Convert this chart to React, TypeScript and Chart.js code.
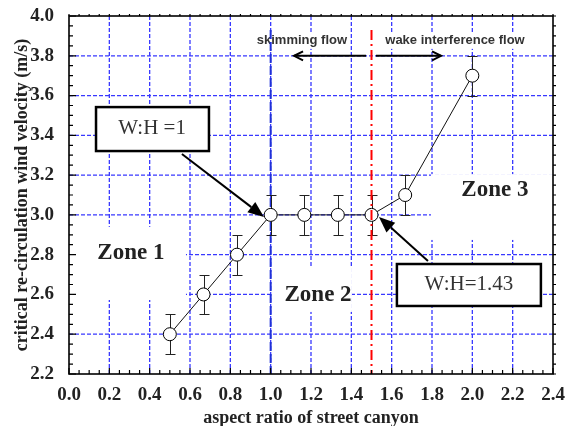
import { useEffect, useRef } from "react";
import { Chart, registerables } from "chart.js";

Chart.register(...registerables);

// ---- data ----
const aspectRatios = [0.5, 0.667, 0.833, 1.0, 1.167, 1.333, 1.5, 1.667, 2.0];
const velocities = [2.4, 2.6, 2.8, 3.0, 3.0, 3.0, 3.0, 3.1, 3.7];
const velocityErrors = [0.1, 0.1, 0.1, 0.1, 0.1, 0.1, 0.1, 0.1, 0.1];

const X_MIN = 0;
const X_MAX = 2.4;
const Y_MIN = 2.2;
const Y_MAX = 4.0;
const TICK_STEP = 0.2;
const MINOR_STEP = 0.05;

const xTitle = "aspect ratio of street canyon";
const yTitle = "critical re-circulation wind velocity (m/s)";
const skimmingBoundary = 1.0;
const wakeBoundary = 1.5;

const SERIF = "'Liberation Serif', 'Times New Roman', serif";
const SANS = "'Liberation Sans', Arial, sans-serif";

function drawArrow(
  ctx: CanvasRenderingContext2D,
  x1: number, y1: number, x2: number, y2: number,
  filled: boolean, headLen: number, headHalf: number, lw: number
) {
  const ang = Math.atan2(y2 - y1, x2 - x1);
  const cos = Math.cos(ang), sin = Math.sin(ang);
  const bx = x2 - headLen * cos, by = y2 - headLen * sin;
  const lx = bx + headHalf * sin, ly = by - headHalf * cos;
  const rx = bx - headHalf * sin, ry = by + headHalf * cos;
  ctx.save();
  ctx.strokeStyle = "#000";
  ctx.fillStyle = "#000";
  ctx.lineWidth = lw;
  ctx.setLineDash([]);
  ctx.beginPath();
  ctx.moveTo(x1, y1);
  ctx.lineTo(filled ? bx : x2, filled ? by : y2);
  ctx.stroke();
  ctx.beginPath();
  if (filled) {
    ctx.moveTo(x2, y2);
    ctx.lineTo(lx, ly);
    ctx.lineTo(rx, ry);
    ctx.closePath();
    ctx.fill();
  } else {
    ctx.moveTo(lx, ly);
    ctx.lineTo(x2, y2);
    ctx.lineTo(rx, ry);
    ctx.stroke();
  }
  ctx.restore();
}

const decorPlugin = {
  id: "decor",
  beforeDatasetsDraw(chart: any) {
    const { ctx, chartArea: a } = chart;
    const xs = chart.scales.x, ys = chart.scales.y;
    const px = (v: number) => xs.getPixelForValue(v);
    const py = (v: number) => ys.getPixelForValue(v);
    ctx.save();
    // grid
    ctx.strokeStyle = "#3838ff";
    ctx.lineWidth = 1.3;
    ctx.setLineDash([4, 2]);
    const nx = Math.round((X_MAX - X_MIN) / TICK_STEP);
    for (let k = 1; k < nx; k++) {
      const x = px(X_MIN + k * TICK_STEP);
      ctx.beginPath();
      ctx.moveTo(x, a.top);
      ctx.lineTo(x, a.bottom);
      ctx.stroke();
    }
    const ny = Math.round((Y_MAX - Y_MIN) / TICK_STEP);
    for (let k = 1; k < ny; k++) {
      const y = py(Y_MIN + k * TICK_STEP);
      ctx.beginPath();
      ctx.moveTo(a.left, y);
      ctx.lineTo(a.right, y);
      ctx.stroke();
    }
    ctx.setLineDash([]);
    // white label backgrounds
    ctx.fillStyle = "#fff";
    const boxes = [
      [0.0, 2.94, 0.58, 2.572],
      [1.007, 2.733, 1.403, 2.512],
      [1.795, 3.205, 2.4, 2.874],
    ];
    for (const [x0, y0, x1, y1] of boxes) {
      ctx.fillRect(px(x0), py(y0), px(x1) - px(x0), py(y1) - py(y0));
    }
    // zone labels
    ctx.fillStyle = "#222";
    ctx.font = `bold 23px ${SERIF}`;
    ctx.textAlign = "center";
    ctx.textBaseline = "middle";
    ctx.fillText("Zone 1", px(0.307), py(2.808));
    ctx.fillText("Zone 2", px(1.235), py(2.597));
    ctx.fillText("Zone 3", px(2.112), py(3.125));
    // flow labels
    ctx.font = `bold 13px ${SANS}`;
    const flows: [string, number][] = [
      ["skimming flow", 1.155],
      ["wake interference flow", 1.914],
    ];
    for (const [t, xv] of flows) {
      const w = ctx.measureText(t).width;
      ctx.fillStyle = "#fff";
      ctx.fillRect(px(xv) - w / 2 - 2, py(3.875) - 8, w + 4, 16);
      ctx.fillStyle = "#333";
      ctx.fillText(t, px(xv), py(3.875));
    }
    drawArrow(ctx, px(1.473), py(3.8), px(1.116), py(3.8), false, 9, 4.5, 2);
    drawArrow(ctx, px(1.522), py(3.8), px(1.845), py(3.8), false, 9, 4.5, 2);
    // blue dashed boundary
    ctx.strokeStyle = "#2030d8";
    ctx.lineWidth = 2;
    ctx.setLineDash([9, 3]);
    ctx.beginPath();
    ctx.moveTo(px(skimmingBoundary), py(3.93));
    ctx.lineTo(px(skimmingBoundary), a.bottom);
    ctx.stroke();
    ctx.setLineDash([]);
    // error bars
    ctx.strokeStyle = "#222";
    ctx.lineWidth = 1;
    for (let i = 0; i < aspectRatios.length; i++) {
      const x = Math.round(px(aspectRatios[i])) + 0.5;
      const t = Math.round(py(velocities[i] + velocityErrors[i])) + 0.5;
      const b = Math.round(py(velocities[i] - velocityErrors[i])) + 0.5;
      ctx.beginPath();
      ctx.moveTo(x, t);
      ctx.lineTo(x, b);
      ctx.moveTo(x - 5, t);
      ctx.lineTo(x + 5, t);
      ctx.moveTo(x - 5, b);
      ctx.lineTo(x + 5, b);
      ctx.stroke();
    }
    ctx.restore();
  },
  afterDatasetsDraw(chart: any) {
    const { ctx, chartArea: a } = chart;
    const xs = chart.scales.x, ys = chart.scales.y;
    const px = (v: number) => xs.getPixelForValue(v);
    const py = (v: number) => ys.getPixelForValue(v);
    ctx.save();
    // red dash-dot boundary
    ctx.strokeStyle = "#ff0000";
    ctx.lineWidth = 2;
    ctx.setLineDash([10, 4, 2, 4]);
    ctx.beginPath();
    ctx.moveTo(px(wakeBoundary), py(3.93));
    ctx.lineTo(px(wakeBoundary), a.bottom);
    ctx.stroke();
    ctx.setLineDash([]);
    // frame
    ctx.strokeStyle = "#000";
    ctx.lineWidth = 1.6;
    ctx.strokeRect(a.left, a.top, a.right - a.left, a.bottom - a.top);
    // ticks
    ctx.lineWidth = 1.2;
    const nxm = Math.round((X_MAX - X_MIN) / MINOR_STEP);
    const per = Math.round(TICK_STEP / MINOR_STEP);
    for (let k = 0; k <= nxm; k++) {
      const x = px(X_MIN + k * MINOR_STEP);
      const len = k % per === 0 ? 6 : 4;
      ctx.beginPath();
      ctx.moveTo(x, a.bottom);
      ctx.lineTo(x, a.bottom - len);
      ctx.moveTo(x, a.top);
      ctx.lineTo(x, a.top - 2);
      ctx.stroke();
    }
    const nym = Math.round((Y_MAX - Y_MIN) / MINOR_STEP);
    for (let k = 0; k <= nym; k++) {
      const y = py(Y_MIN + k * MINOR_STEP);
      const len = k % per === 0 ? 7 : 4;
      ctx.beginPath();
      ctx.moveTo(a.left, y);
      ctx.lineTo(a.left + len, y);
      ctx.moveTo(a.right, y);
      ctx.lineTo(a.right + 3, y);
      ctx.stroke();
    }
    // W:H boxes
    const callouts: [string, number, number, number, number, number, number][] = [
      ["W:H =1", 0.134, 3.542, 0.694, 3.321, 0.412, 3.432],
      ["W:H=1.43", 1.626, 2.753, 2.34, 2.542, 1.983, 2.648],
    ];
    ctx.font = `21px ${SERIF}`;
    ctx.textAlign = "center";
    ctx.textBaseline = "middle";
    for (const [t, x0, y0, x1, y1, tx, ty] of callouts) {
      ctx.fillStyle = "#fff";
      ctx.fillRect(px(x0), py(y0), px(x1) - px(x0), py(y1) - py(y0));
      ctx.strokeStyle = "#000";
      ctx.lineWidth = 2.5;
      ctx.strokeRect(px(x0), py(y0), px(x1) - px(x0), py(y1) - py(y0));
      ctx.fillStyle = "#333";
      ctx.fillText(t, px(tx), py(ty));
    }
    drawArrow(ctx, px(0.56), py(3.306), px(0.967), py(2.99), true, 16, 6.5, 2);
    drawArrow(ctx, px(1.78), py(2.768), px(1.537), py(2.99), true, 16, 6.5, 2);
    ctx.restore();
  },
};

export default function App() {
  const ref = useRef<HTMLCanvasElement | null>(null);
  useEffect(() => {
    if (!ref.current) return;
    const chart = new Chart(ref.current, {
      type: "scatter",
      data: {
        datasets: [
          {
            label: "velocity",
            data: aspectRatios.map((x, i) => ({ x, y: velocities[i] })),
            showLine: true,
            borderColor: "#111",
            borderWidth: 1,
            pointRadius: 6.5,
            pointHoverRadius: 6.5,
            pointBackgroundColor: "#fff",
            pointBorderColor: "#000",
            pointBorderWidth: 1,
          },
        ],
      },
      plugins: [decorPlugin],
      options: {
        responsive: false,
        animation: false,
        events: [],
        layout: { padding: { top: 16, right: 12, left: 0, bottom: 0 } },
        plugins: { legend: { display: false }, tooltip: { enabled: false } },
        scales: {
          x: {
            type: "linear",
            min: X_MIN,
            max: X_MAX,
            grid: { display: false },
            border: { display: false },
            ticks: {
              stepSize: TICK_STEP,
              padding: 2,
              color: "#222",
              font: { family: SERIF, size: 19, weight: "bold" },
              maxRotation: 0,
              autoSkip: false,
              callback: (v: any) => Number(v).toFixed(1),
            },
            title: {
              display: true,
              text: xTitle,
              color: "#222",
              font: { family: SERIF, size: 18, weight: "bold", lineHeight: 1 },
              padding: { top: 0, bottom: -1 },
            },
            afterFit: (s: any) => {
              s.height = 52;
              s.paddingLeft = 0;
              s.paddingRight = 0;
            },
          },
          y: {
            type: "linear",
            min: Y_MIN,
            max: Y_MAX,
            grid: { display: false },
            border: { display: false },
            ticks: {
              stepSize: TICK_STEP,
              padding: 7,
              color: "#222",
              font: { family: SERIF, size: 19, weight: "bold" },
              autoSkip: false,
              callback: (v: any) => Number(v).toFixed(1),
            },
            title: {
              display: true,
              text: yTitle,
              color: "#222",
              font: { family: SERIF, size: 18, weight: "bold", lineHeight: 1 },
              padding: { top: 13, bottom: 0 },
            },
            afterFit: (s: any) => {
              s.width = 69;
              s.paddingTop = 0;
              s.paddingBottom = 0;
            },
          },
        },
      } as any,
    });
    return () => chart.destroy();
  }, []);
  return (
    <div style={{ position: "fixed", left: 0, top: 0, width: 565, height: 426, background: "#fff" }}>
      <canvas ref={ref} width={565} height={426} style={{ display: "block" }} />
    </div>
  );
}
